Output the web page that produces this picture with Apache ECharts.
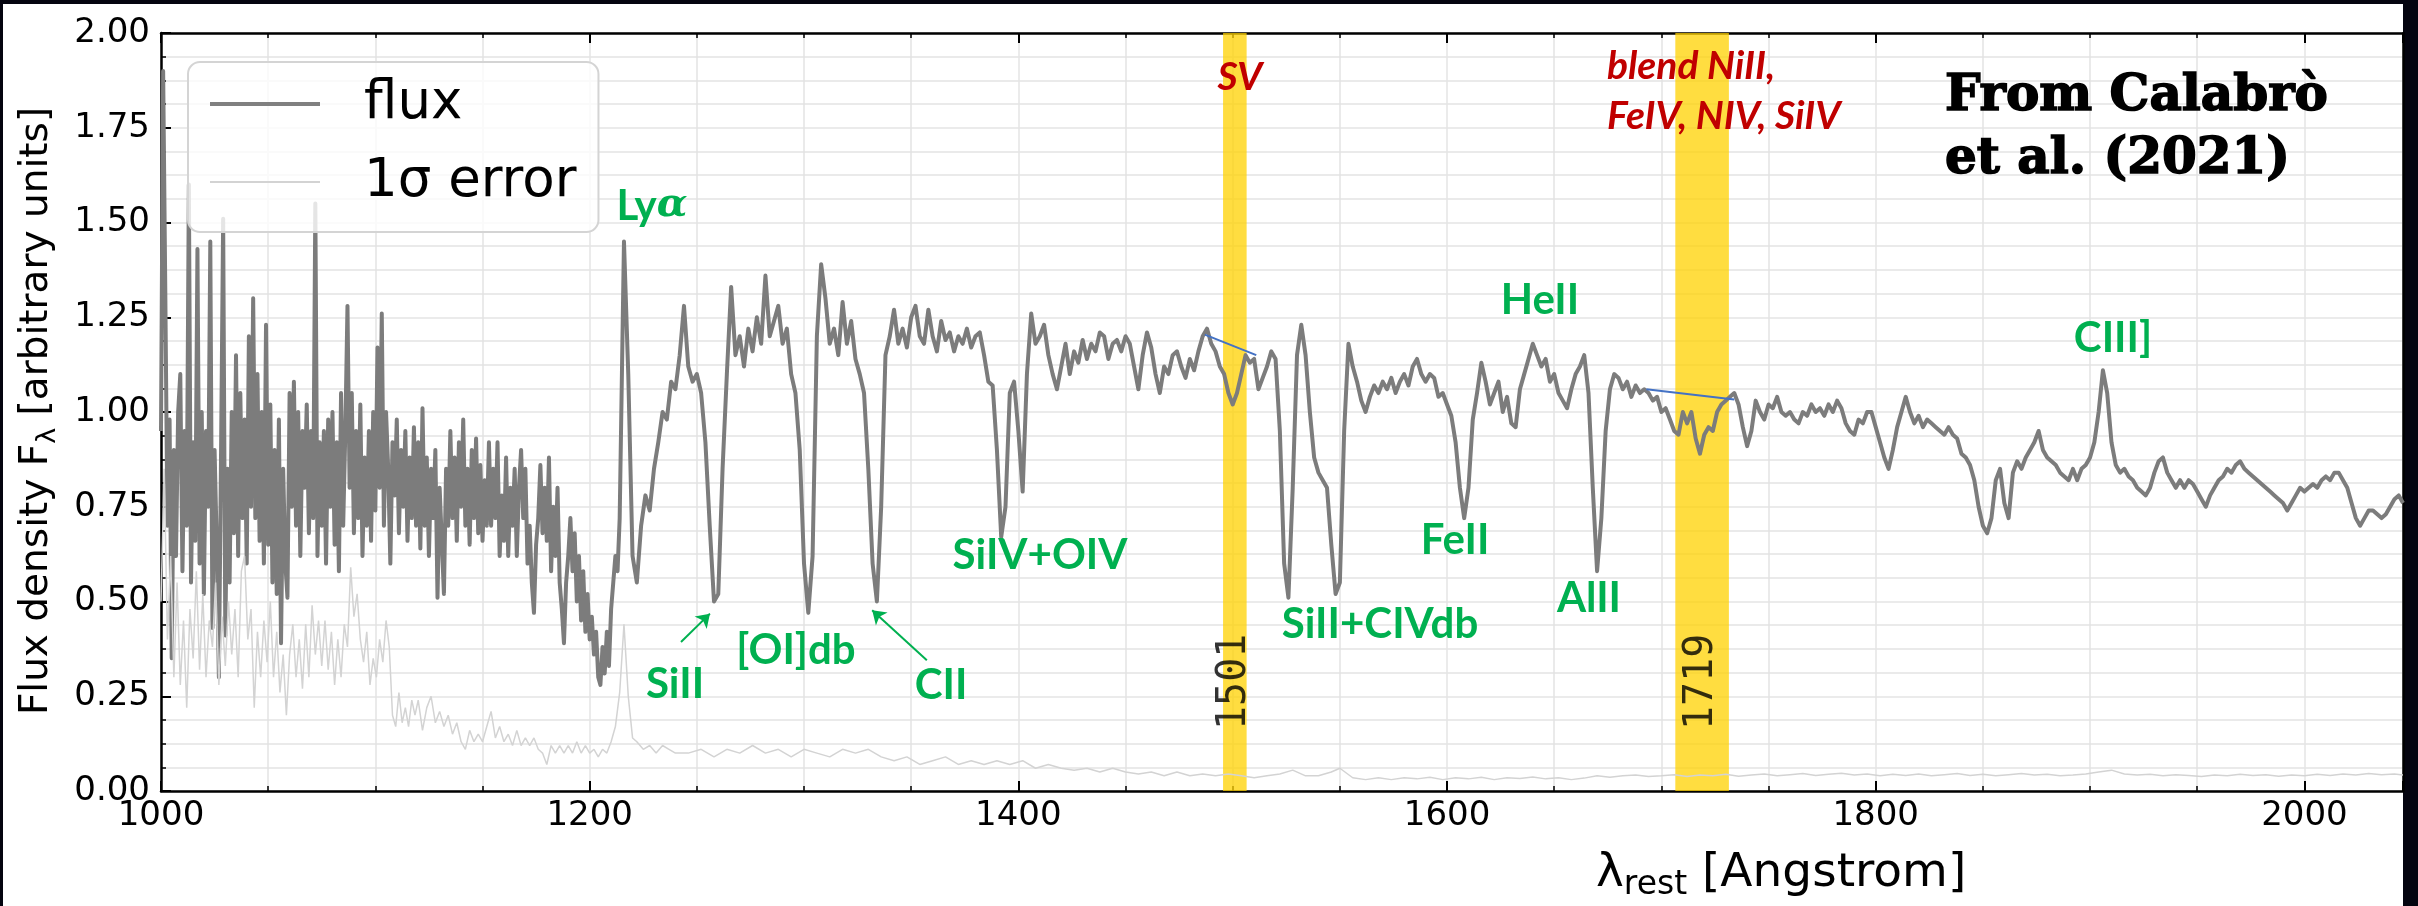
<!DOCTYPE html>
<html>
<head>
<meta charset="utf-8">
<script src="https://cdn.jsdelivr.net/npm/echarts@6/dist/echarts.min.js"></script>
<style>
  html, body { margin: 0; padding: 0; background: #04040f; }
  #paper { position: absolute; left: 3px; top: 4px; width: 2400px; height: 902px; background: #ffffff; }
  #chart { position: absolute; left: 0; top: 0; width: 2418px; height: 906px; }
</style>
</head>
<body>
<div id="paper"></div>
<div id="chart"></div>
<script>
// Rest-frame stacked spectrum: wavelength [Angstrom] vs flux density (arbitrary units)

// Lyman-alpha forest part (noisy)
const fluxForest = [
  [1000,0.95],[1001,1.90],[1002,1.32],[1003,0.70],[1004,0.98],[1005,0.35],[1006,0.90],[1007,0.62],[1008,1.00],[1009,1.10],
  [1010,0.58],[1011,0.95],[1012,0.70],[1013,1.60],[1014,0.55],[1015,0.92],[1016,0.66],[1017,1.43],[1018,0.60],[1019,1.00],
  [1020,0.52],[1021,0.95],[1022,0.75],[1023,1.45],[1024,0.43],[1025,0.90],[1026,0.65],[1027,0.30],[1028,0.88],[1029,1.51],
  [1030,0.41],[1031,0.85],[1032,0.55],[1033,1.00],[1034,0.68],[1035,1.15],[1036,0.62],[1037,1.05],[1038,0.72],[1039,0.98],
  [1040,0.60],[1041,1.20],[1042,0.75],[1043,1.30],[1044,0.72],[1045,1.10],[1046,0.66],[1047,1.00],[1048,0.60],[1049,1.23],
  [1050,0.65],[1051,1.02],[1052,0.55],[1053,0.90],[1054,0.52],[1055,0.98],[1056,0.39],[1057,0.85],[1058,0.60],[1059,0.51],
  [1060,1.05],[1061,0.75],[1062,1.08],[1063,0.70],[1064,1.00],[1065,0.62],[1066,0.95],[1067,0.80],[1068,1.02],[1069,0.68],
  [1070,0.95],[1071,0.72],[1072,1.55],[1073,0.62],[1074,0.92],[1075,0.70],[1076,0.95],[1077,0.60],[1078,0.98],[1079,0.75],
  [1080,1.00],[1081,0.65],[1082,0.92],[1083,0.58],[1084,1.05],[1085,0.70],[1086,0.95],[1087,1.28],[1088,0.80],[1089,1.05],
  [1090,0.68],[1091,0.95],[1092,0.72],[1093,1.02],[1094,0.62],[1095,0.88],[1096,0.70],[1097,0.95],[1098,0.66],[1099,1.00],
  [1100,0.74],[1101,1.17],[1102,0.80],[1103,1.26],[1104,0.70],[1105,1.00],[1106,0.85],[1107,0.60],[1108,0.92],[1109,0.78],
  [1110,0.98],[1111,0.68],[1112,0.90],[1113,0.75],[1114,0.95],[1115,0.66],[1116,0.88],[1117,0.72],[1118,0.96],[1119,0.70],
  [1120,0.92],[1121,0.64],[1122,1.01],[1123,0.70],[1124,0.88],[1125,0.62],[1126,0.85],[1127,0.72],[1128,0.90],[1129,0.51],
  [1130,0.80],[1131,0.66],[1132,0.52],[1133,0.85],[1134,0.70],[1135,0.95],[1136,0.72],[1137,0.88],[1138,0.66],[1139,0.92],
  [1140,0.75],[1141,0.98],[1142,0.70],[1143,0.85],[1144,0.65],[1145,0.90],[1146,0.72],[1147,0.93],[1148,0.68],[1149,0.86],
  [1150,0.66],[1151,0.82],[1152,0.70],[1153,0.92],[1154,0.70],[1155,0.85],[1156,0.72],[1157,0.92],[1158,0.62],[1159,0.78],
  [1160,0.66],[1161,0.88],[1162,0.62],[1163,0.80],[1164,0.70],[1165,0.85],[1166,0.62],[1167,0.80],[1168,0.90],[1169,0.72],
  [1170,0.85],[1171,0.60],[1172,0.70],[1173,0.55],[1174,0.47],[1175,0.65],[1176,0.72],[1177,0.86],[1178,0.68],[1179,0.80],
  [1180,0.66],[1181,0.88],[1182,0.58],[1183,0.75],[1184,0.62],[1185,0.80],[1186,0.55],[1187,0.48],[1188,0.39],[1189,0.55],
  [1190,0.62],[1191,0.72],[1192,0.58],[1193,0.68],[1194,0.50],[1195,0.62],[1196,0.45],[1197,0.58],[1198,0.42],[1199,0.52],
  [1200,0.40],[1201,0.46],[1202,0.36],[1203,0.42],[1204,0.30],[1205,0.28],[1206,0.38],[1207,0.31],[1208,0.42],[1209,0.33],
  [1210,0.48],[1211,0.55],[1212,0.62],[1213,0.58]
];

// Ly-alpha to SiIV
const fluxUV1 = [
  [1214,0.72],[1216,1.45],[1218,1.10],[1220,0.62],[1222,0.55],[1224,0.70],[1226,0.78],[1228,0.74],[1230,0.85],[1232,0.92],
  [1234,1.00],[1236,0.98],[1238,1.08],[1240,1.06],[1242,1.15],[1244,1.28],[1246,1.12],[1248,1.08],[1250,1.10],[1252,1.05],
  [1254,0.92],[1256,0.70],[1258,0.50],[1260,0.52],[1262,0.85],[1264,1.10],[1266,1.33],[1268,1.15],[1270,1.20],[1272,1.12],
  [1274,1.22],[1276,1.16],[1278,1.25],[1280,1.18],[1282,1.36],[1284,1.20],[1286,1.24],[1288,1.28],[1290,1.18],[1292,1.22],
  [1294,1.10],[1296,1.05],[1298,0.90],[1300,0.60],[1302,0.47],[1304,0.62],[1306,1.20],[1308,1.39],[1310,1.30],[1312,1.18],
  [1314,1.22],[1316,1.15],[1318,1.29],[1320,1.18],[1322,1.24],[1324,1.14],[1326,1.10],[1328,1.05],[1330,0.85],[1332,0.60],
  [1334,0.50],[1336,0.75],[1338,1.15],[1340,1.20],[1342,1.27],[1344,1.18],[1346,1.22],[1348,1.17],[1350,1.25],[1352,1.28],
  [1354,1.20],[1356,1.18],[1358,1.27],[1360,1.20],[1362,1.16],[1364,1.24],[1366,1.19],[1368,1.21],[1370,1.16],[1372,1.20],
  [1374,1.18],[1376,1.22],[1378,1.17],[1380,1.20],[1382,1.21],[1384,1.15],[1386,1.08],[1388,1.07],[1390,0.90],[1392,0.67],
  [1394,0.75],[1396,1.05],[1398,1.08],[1400,0.95]
];

// SiIV to 1600
const fluxUV2 = [
  [1402,0.79],[1404,1.10],[1406,1.26],[1408,1.18],[1410,1.20],[1412,1.23],[1414,1.15],[1416,1.10],[1418,1.06],[1420,1.12],
  [1422,1.18],[1424,1.10],[1426,1.16],[1428,1.13],[1430,1.19],[1432,1.14],[1434,1.18],[1436,1.16],[1438,1.21],[1440,1.20],
  [1442,1.14],[1444,1.18],[1446,1.19],[1448,1.16],[1450,1.20],[1452,1.18],[1454,1.12],[1456,1.06],[1458,1.15],[1460,1.21],
  [1462,1.17],[1464,1.10],[1466,1.05],[1468,1.12],[1470,1.10],[1472,1.15],[1474,1.16],[1476,1.12],[1478,1.09],[1480,1.14],
  [1482,1.11],[1484,1.16],[1486,1.20],[1488,1.22],[1490,1.18],[1492,1.16],[1494,1.12],[1496,1.10],[1498,1.05],[1500,1.02],
  [1502,1.05],[1504,1.10],[1506,1.15],[1508,1.13],[1510,1.14],[1512,1.06],[1514,1.09],[1516,1.12],[1518,1.16],[1520,1.14],
  [1522,0.95],[1524,0.60],[1526,0.51],[1528,0.80],[1530,1.15],[1532,1.23],[1534,1.15],[1536,1.00],[1538,0.88],[1540,0.84],
  [1542,0.82],[1544,0.80],[1546,0.65],[1548,0.52],[1550,0.55],[1552,0.95],[1554,1.18],[1556,1.12],[1558,1.08],[1560,1.03],
  [1562,1.00],[1564,1.04],[1566,1.07],[1568,1.05],[1570,1.08],[1572,1.06],[1574,1.09],[1576,1.05],[1578,1.08],[1580,1.10],
  [1582,1.07],[1584,1.12],[1586,1.14],[1588,1.10],[1590,1.08],[1592,1.10],[1594,1.09],[1596,1.04],[1598,1.05],[1600,1.02]
];

// 1600 to 1800
const fluxUV3 = [
  [1602,0.99],[1604,0.92],[1606,0.80],[1608,0.72],[1610,0.80],[1612,0.98],[1614,1.05],[1616,1.13],[1618,1.08],[1620,1.02],
  [1622,1.05],[1624,1.08],[1626,1.00],[1628,1.04],[1630,0.97],[1632,0.96],[1634,1.06],[1636,1.10],[1638,1.14],[1640,1.18],
  [1642,1.15],[1644,1.12],[1646,1.14],[1648,1.08],[1650,1.10],[1652,1.05],[1654,1.03],[1656,1.01],[1658,1.06],[1660,1.10],
  [1662,1.12],[1664,1.15],[1666,1.05],[1668,0.80],[1670,0.58],[1672,0.72],[1674,0.95],[1676,1.06],[1678,1.10],[1680,1.09],
  [1682,1.06],[1684,1.08],[1686,1.04],[1688,1.07],[1690,1.05],[1692,1.06],[1694,1.05],[1696,1.03],[1698,1.04],[1700,1.00],
  [1702,1.01],[1704,0.98],[1706,0.95],[1708,0.94],[1710,1.00],[1712,0.97],[1714,1.00],[1716,0.93],[1718,0.89],[1720,0.94],
  [1722,0.96],[1724,0.95],[1726,1.00],[1728,1.02],[1730,1.03],[1732,1.04],[1734,1.05],[1736,1.02],[1738,0.96],[1740,0.91],
  [1742,0.95],[1744,1.03],[1746,1.00],[1748,0.98],[1750,1.02],[1752,1.01],[1754,1.04],[1756,1.00],[1758,0.99],[1760,1.00],
  [1762,0.98],[1764,0.97],[1766,1.00],[1768,0.99],[1770,1.02],[1772,1.00],[1774,1.01],[1776,0.99],[1778,1.02],[1780,1.00],
  [1782,1.03],[1784,1.01],[1786,0.97],[1788,0.95],[1790,0.94],[1792,0.98],[1794,0.97],[1796,1.00],[1798,1.00],[1800,0.96]
];

// 1800 to the red end
const fluxUV4 = [
  [1802,0.92],[1804,0.88],[1806,0.85],[1808,0.90],[1810,0.96],[1812,1.00],[1814,1.04],[1816,1.00],[1818,0.97],[1820,0.99],
  [1822,0.96],[1824,0.98],[1826,0.97],[1828,0.96],[1830,0.95],[1832,0.94],[1834,0.96],[1836,0.94],[1838,0.93],[1840,0.89],
  [1842,0.88],[1844,0.86],[1846,0.82],[1848,0.75],[1850,0.70],[1852,0.68],[1854,0.72],[1856,0.82],[1858,0.85],[1860,0.76],
  [1862,0.72],[1864,0.84],[1866,0.87],[1868,0.85],[1870,0.88],[1872,0.90],[1874,0.92],[1876,0.95],[1878,0.90],[1880,0.88],
  [1882,0.87],[1884,0.86],[1886,0.84],[1888,0.83],[1890,0.82],[1892,0.85],[1894,0.82],[1896,0.85],[1898,0.86],[1900,0.88],
  [1902,0.92],[1904,1.00],[1906,1.11],[1908,1.05],[1910,0.92],[1912,0.86],[1914,0.84],[1916,0.85],[1918,0.83],[1920,0.82],
  [1922,0.80],[1924,0.79],[1926,0.78],[1928,0.80],[1930,0.84],[1932,0.87],[1934,0.88],[1936,0.84],[1938,0.82],[1940,0.80],
  [1942,0.82],[1944,0.80],[1946,0.82],[1948,0.81],[1950,0.79],[1952,0.77],[1954,0.75],[1956,0.78],[1958,0.80],[1960,0.82],
  [1962,0.83],[1964,0.85],[1966,0.84],[1968,0.86],[1970,0.87],[1972,0.85],[1974,0.84],[1976,0.83],[1978,0.82],[1980,0.81],
  [1982,0.80],[1984,0.79],[1986,0.78],[1988,0.77],[1990,0.76],[1992,0.74],[1994,0.76],[1996,0.78],[1998,0.80],[2000,0.79],
  [2002,0.80],[2004,0.81],[2006,0.80],[2008,0.82],[2010,0.83],[2012,0.82],[2014,0.84],[2016,0.84],[2018,0.82],[2020,0.80],
  [2022,0.76],[2024,0.72],[2026,0.70],[2028,0.72],[2030,0.74],[2032,0.74],[2034,0.73],[2036,0.72],[2038,0.73],[2040,0.75],
  [2042,0.77],[2044,0.78],[2046,0.76]
];

// 1-sigma error spectrum
const errorForest = [
  [1000,0.50],[1001.5,0.85],[1003,0.40],[1004.5,0.62],[1006,0.30],[1007.5,0.55],[1009,0.28],[1010.5,0.45],[1012,0.22],[1013.5,0.48],
  [1015,0.35],[1016.5,0.58],[1018,0.32],[1019.5,0.52],[1021,0.30],[1022.5,0.45],[1024,0.38],[1025.5,0.55],[1027,0.28],[1028.5,0.46],
  [1030,0.33],[1031.5,0.50],[1033,0.36],[1034.5,0.48],[1036,0.30],[1037.5,0.58],[1039,0.62],[1040.5,0.40],[1042,0.48],[1043.5,0.22],
  [1045,0.42],[1046.5,0.30],[1048,0.45],[1049.5,0.34],[1051,0.50],[1052.5,0.30],[1054,0.42],[1055.5,0.26],[1057,0.36],[1058.5,0.20],
  [1060,0.36],[1061.5,0.44],[1063,0.30],[1064.5,0.40],[1066,0.27],[1067.5,0.44],[1069,0.30],[1070.5,0.49],[1072,0.36],[1073.5,0.45],
  [1075,0.33],[1076.5,0.45],[1078,0.32],[1079.5,0.42],[1081,0.28],[1082.5,0.40],[1084,0.30],[1085.5,0.44],[1087,0.38],[1088.5,0.59],
  [1090,0.46],[1091.5,0.52],[1093,0.40],[1094.5,0.34],[1096,0.42],[1097.5,0.28],[1099,0.35],[1100.5,0.30],[1102,0.40],[1103.5,0.34],
  [1105,0.45],[1106.5,0.38],[1108,0.20],[1109.5,0.17],[1111,0.26],[1112.5,0.18],[1114,0.22],[1115.5,0.17],[1117,0.24],[1118.5,0.20],
  [1120,0.24],[1122,0.16],[1124,0.22],[1126,0.25],[1128,0.18],[1130,0.21],[1132,0.17],[1134,0.20],[1136,0.15],[1138,0.18],
  [1140,0.13],[1142,0.11],[1144,0.16],[1146,0.13],[1148,0.15],[1150,0.13],[1152,0.17],[1154,0.21],[1156,0.14],[1158,0.17],
  [1160,0.13],[1162,0.15],[1164,0.12],[1166,0.16],[1168,0.12],[1170,0.14],[1172,0.12],[1174,0.14],[1176,0.11],[1178,0.10],
  [1180,0.07],[1182,0.12],[1184,0.10],[1186,0.12],[1188,0.10],[1190,0.12],[1192,0.10],[1194,0.13],[1196,0.10],[1198,0.12],
  [1200,0.10],[1202,0.11],[1204,0.09],[1206,0.11],[1208,0.10],[1210,0.13],[1212,0.17],[1214,0.26],[1216,0.44],[1218,0.25],
  [1220,0.14],[1222,0.13],[1225,0.11],[1228,0.12],[1231,0.10],[1234,0.12],[1237,0.11],[1240,0.10]
];
const errorUV = [
  [1246,0.10],[1252,0.11],[1258,0.09],[1264,0.11],[1270,0.10],[1276,0.12],[1282,0.10],[1288,0.11],[1294,0.09],[1300,0.11],
  [1306,0.10],[1312,0.09],[1318,0.11],[1324,0.10],[1330,0.11],[1336,0.09],[1342,0.08],[1348,0.09],[1354,0.07],[1360,0.08],
  [1366,0.09],[1372,0.07],[1378,0.08],[1384,0.07],[1390,0.08],[1396,0.07],[1402,0.08],[1408,0.06],[1414,0.07],[1420,0.06],
  [1426,0.055],[1432,0.06],[1438,0.05],[1444,0.06],[1450,0.05],[1456,0.045],[1462,0.05],[1468,0.04],[1474,0.05],[1480,0.04],
  [1486,0.045],[1492,0.04],[1498,0.045],[1504,0.04],[1510,0.035],[1516,0.04],[1522,0.045],[1528,0.055],[1534,0.04],[1540,0.04],
  [1546,0.05],[1550,0.06],[1556,0.035],[1562,0.03],[1568,0.035],[1574,0.03],[1580,0.035],[1586,0.032],[1592,0.036],[1598,0.03],
  [1604,0.035],[1610,0.032],[1616,0.036],[1622,0.03],[1628,0.035],[1634,0.033],[1640,0.037],[1646,0.032],[1652,0.035],[1658,0.03],
  [1664,0.034],[1670,0.04],[1676,0.036],[1682,0.04],[1688,0.042],[1694,0.038],[1700,0.04],[1706,0.043],[1712,0.038],[1718,0.042],
  [1724,0.04],[1730,0.044],[1736,0.039],[1742,0.042],[1748,0.045],[1754,0.04],[1760,0.043],[1766,0.046],[1772,0.041],[1778,0.044],
  [1784,0.047],[1790,0.042],[1796,0.045],[1802,0.04],[1808,0.044],[1814,0.041],[1820,0.045],[1826,0.04],[1832,0.043],[1838,0.046],
  [1844,0.041],[1850,0.044],[1856,0.04],[1862,0.043],[1868,0.046],[1874,0.042],[1880,0.044],[1886,0.04],[1892,0.042],[1898,0.045],
  [1904,0.05],[1910,0.055],[1916,0.045],[1922,0.042],[1928,0.044],[1934,0.04],[1940,0.043],[1946,0.041],[1952,0.038],[1958,0.042],
  [1964,0.04],[1970,0.044],[1976,0.041],[1982,0.043],[1988,0.039],[1994,0.042],[2000,0.04],[2006,0.044],[2012,0.041],[2018,0.045],
  [2024,0.042],[2030,0.046],[2036,0.043],[2042,0.045],[2046,0.042]
];

// highlighted windows: centre and half width [Angstrom]
const bandCenters = [1501, 1719];
const bandHalfWidths = [5.5, 12.5];

// local continuum fits across the two windows
const continuumFits = [
  [[1487, 1.204], [1511, 1.150]],
  [[1693, 1.060], [1734, 1.033]]
];

const xTicks = [1000, 1200, 1400, 1600, 1800, 2000];
const yTicks = [0, 0.25, 0.5, 0.75, 1, 1.25, 1.5, 1.75, 2];

const flux = [].concat(fluxForest, fluxUV1, fluxUV2, fluxUV3, fluxUV4);
const sigma = [].concat(errorForest, errorUV);

const GREEN = '#00b050';
const RED = '#c00000';
const GRID = '#e4e4e4';

const chart = echarts.init(document.getElementById('chart'), null, { renderer: 'canvas' });

function axisCommon(extra) {
  return Object.assign({
    type: 'value',
    axisLine: { show: true, onZero: false, lineStyle: { color: '#000', width: 2.5 } },
    axisTick: { show: true, inside: true, length: 10, lineStyle: { color: '#000', width: 2 } },
    minorTick: { show: true, splitNumber: 4, length: 5, lineStyle: { color: '#000', width: 1.5 } }
  }, extra);
}

const greenLabels = [
  { t: 'Ly{a|α}', x: 652, y: 206 },
  { t: 'SiII', x: 675, y: 684 },
  { t: '[OI]db', x: 796, y: 650 },
  { t: 'CII', x: 941, y: 685 },
  { t: 'SiIV+OIV', x: 1040, y: 555 },
  { t: 'SiII+CIVdb', x: 1380, y: 624 },
  { t: 'FeII', x: 1455, y: 540 },
  { t: 'AlII', x: 1589, y: 598 },
  { t: 'HeII', x: 1540, y: 300 },
  { t: 'CIII]', x: 2113, y: 338 }
];

const graphics = greenLabels.map(g => ({
  type: 'text', x: g.x, y: g.y, z: 50,
  style: {
    text: g.t, fill: GREEN, fontFamily: 'Lato', fontWeight: 'bold', fontSize: 42,
    align: 'center', verticalAlign: 'middle',
    rich: { a: { fontFamily: 'DejaVu Serif', fontStyle: 'italic', fontWeight: 'bold', fontSize: 40, fill: GREEN } }
  }
}));

const redStyle = { fill: RED, fontFamily: 'Lato', fontWeight: 'bold', fontStyle: 'italic', fontSize: 39, verticalAlign: 'middle' };
const sourceStyle = { fill: '#000', stroke: '#000', lineWidth: 1.6, fontFamily: 'DejaVu Serif', fontWeight: 'bold', fontSize: 50, align: 'left', verticalAlign: 'middle' };

graphics.push(
  { type: 'text', x: 1240, y: 77, z: 50, style: Object.assign({ text: 'SV', align: 'center' }, redStyle) },
  { type: 'text', x: 1607, y: 66, z: 50, style: Object.assign({ text: 'blend NiII,', align: 'left' }, redStyle) },
  { type: 'text', x: 1607, y: 116, z: 50, style: Object.assign({ text: 'FeIV, NIV, SiIV', align: 'left' }, redStyle) },
  { type: 'text', x: 1945, y: 97, z: 50, style: Object.assign({ text: 'From Calabrò' }, sourceStyle) },
  { type: 'text', x: 1945, y: 160, z: 50, style: Object.assign({ text: 'et al. (2021)' }, sourceStyle) },
  // axis titles
  { type: 'text', x: 37, y: 411, rotation: Math.PI / 2, z: 50,
    style: {
      text: 'Flux density F{s|λ} [arbitrary units]', fill: '#000',
      fontFamily: 'DejaVu Sans', fontSize: 39, lineHeight: 48,
      align: 'center', verticalAlign: 'middle',
      rich: { s: { fontFamily: 'DejaVu Sans', fontSize: 27, lineHeight: 20, verticalAlign: 'bottom' } }
    } },
  { type: 'text', x: 1596, y: 874, z: 50,
    style: {
      text: 'λ{s|rest} [Angstrom]', fill: '#000',
      fontFamily: 'DejaVu Sans', fontSize: 47, lineHeight: 56,
      align: 'left', verticalAlign: 'middle',
      rich: { s: { fontFamily: 'DejaVu Sans', fontSize: 33, lineHeight: 24, verticalAlign: 'bottom' } }
    } }
);

const option = {
  backgroundColor: 'transparent',
  animation: false,
  grid: { left: 161, top: 33, width: 2242, height: 758, outerBoundsMode: 'none', containLabel: false },
  legend: {
    orient: 'vertical', left: 188, top: 62,
    padding: [12, 22, 20, 20], itemGap: 18,
    itemWidth: 110, itemHeight: 20,
    backgroundColor: 'rgba(255,255,255,0.8)', borderColor: '#d4d4d4', borderWidth: 2, borderRadius: 12,
    textStyle: { fontFamily: 'DejaVu Sans', fontSize: 53, lineHeight: 60, color: '#000', padding: [0, 0, 0, 39] },
    itemStyle: { opacity: 0 },
    data: [
      { name: 'flux', lineStyle: { width: 4, color: '#808080' } },
      { name: '1σ error', lineStyle: { width: 2, color: '#d3d3d3' } }
    ],
    selectedMode: false
  },
  xAxis: [
    axisCommon({
      min: 1000, max: 2046, interval: 200, position: 'bottom',
      axisLabel: {
        show: true, margin: 8, color: '#000', fontFamily: 'DejaVu Sans', fontSize: 34,
        showMaxLabel: false,
        formatter: v => (xTicks.indexOf(v) >= 0 ? String(v) : '')
      },
      splitLine: { show: true, lineStyle: { color: GRID, width: 1.5 } },
      minorSplitLine: { show: true, lineStyle: { color: GRID, width: 1.5 } }
    }),
    axisCommon({
      min: 1000, max: 2046, interval: 200, position: 'top',
      axisLabel: { show: false }, splitLine: { show: false }
    })
  ],
  yAxis: [
    axisCommon({
      min: 0, max: 2, interval: 0.25, position: 'left',
      axisLabel: {
        show: true, margin: 11, color: '#000', fontFamily: 'DejaVu Sans', fontSize: 34,
        formatter: v => (yTicks.indexOf(+v.toFixed(2)) >= 0 ? v.toFixed(2) : '')
      },
      splitLine: { show: true, lineStyle: { color: GRID, width: 1.5 } },
      minorSplitLine: { show: true, lineStyle: { color: GRID, width: 1.5 } }
    }),
    {
      type: 'value', min: 0, max: 2, position: 'right',
      axisLine: { show: true, lineStyle: { color: '#000', width: 2.5 } },
      axisTick: { show: false }, axisLabel: { show: false }, splitLine: { show: false }
    }
  ],
  series: [
    {
      name: 'windows', type: 'line', data: [], z: 1, silent: true,
      markArea: {
        silent: true,
        itemStyle: { color: 'rgba(255,210,0,0.75)' },
        data: bandCenters.map((c, i) => [{ xAxis: c - bandHalfWidths[i] }, { xAxis: c + bandHalfWidths[i] }])
      }
    },
    {
      name: 'flux', type: 'line', data: flux, z: 3,
      symbol: 'none', showSymbol: false, sampling: null,
      lineStyle: { color: '#7c7c7c', width: 4, join: 'round' },
      itemStyle: { color: '#7c7c7c' }
    },
    {
      name: '1σ error', type: 'line', data: sigma, z: 4,
      symbol: 'none', showSymbol: false,
      lineStyle: { color: '#d3d3d3', width: 1.5 },
      itemStyle: { color: '#d3d3d3' }
    },
    {
      name: 'fits', type: 'line', data: [], z: 5, silent: true,
      markLine: {
        silent: true, symbol: 'none', animation: false,
        lineStyle: { color: '#4472c4', width: 2, type: 'solid' },
        label: { show: false },
        data: continuumFits.map(seg => [{ coord: seg[0] }, { coord: seg[1] }])
      }
    },
    {
      name: 'pointers', type: 'line', data: [], z: 6, silent: true,
      markLine: {
        silent: true, symbol: ['none', 'arrow'], symbolSize: 13, animation: false,
        lineStyle: { color: GREEN, width: 2, type: 'solid' },
        label: { show: false },
        data: [
          [{ coord: [1242.6, 0.393] }, { coord: [1256.1, 0.468] }],
          [{ coord: [1357.3, 0.345] }, { coord: [1331.8, 0.477] }]
        ]
      }
    },
    {
      name: 'windowLabels', type: 'scatter', z: 7, silent: true,
      symbolSize: 0,
      data: bandCenters.map(c => [c, 0.288]),
      label: {
        show: true, position: 'inside', rotate: 90,
        formatter: p => String(p.value[0]),
        fontFamily: 'DejaVu Sans Mono', fontSize: 40, color: '#000'
      }
    }
  ],
  graphic: graphics
};

chart.setOption(option);
</script>
</body>
</html>
